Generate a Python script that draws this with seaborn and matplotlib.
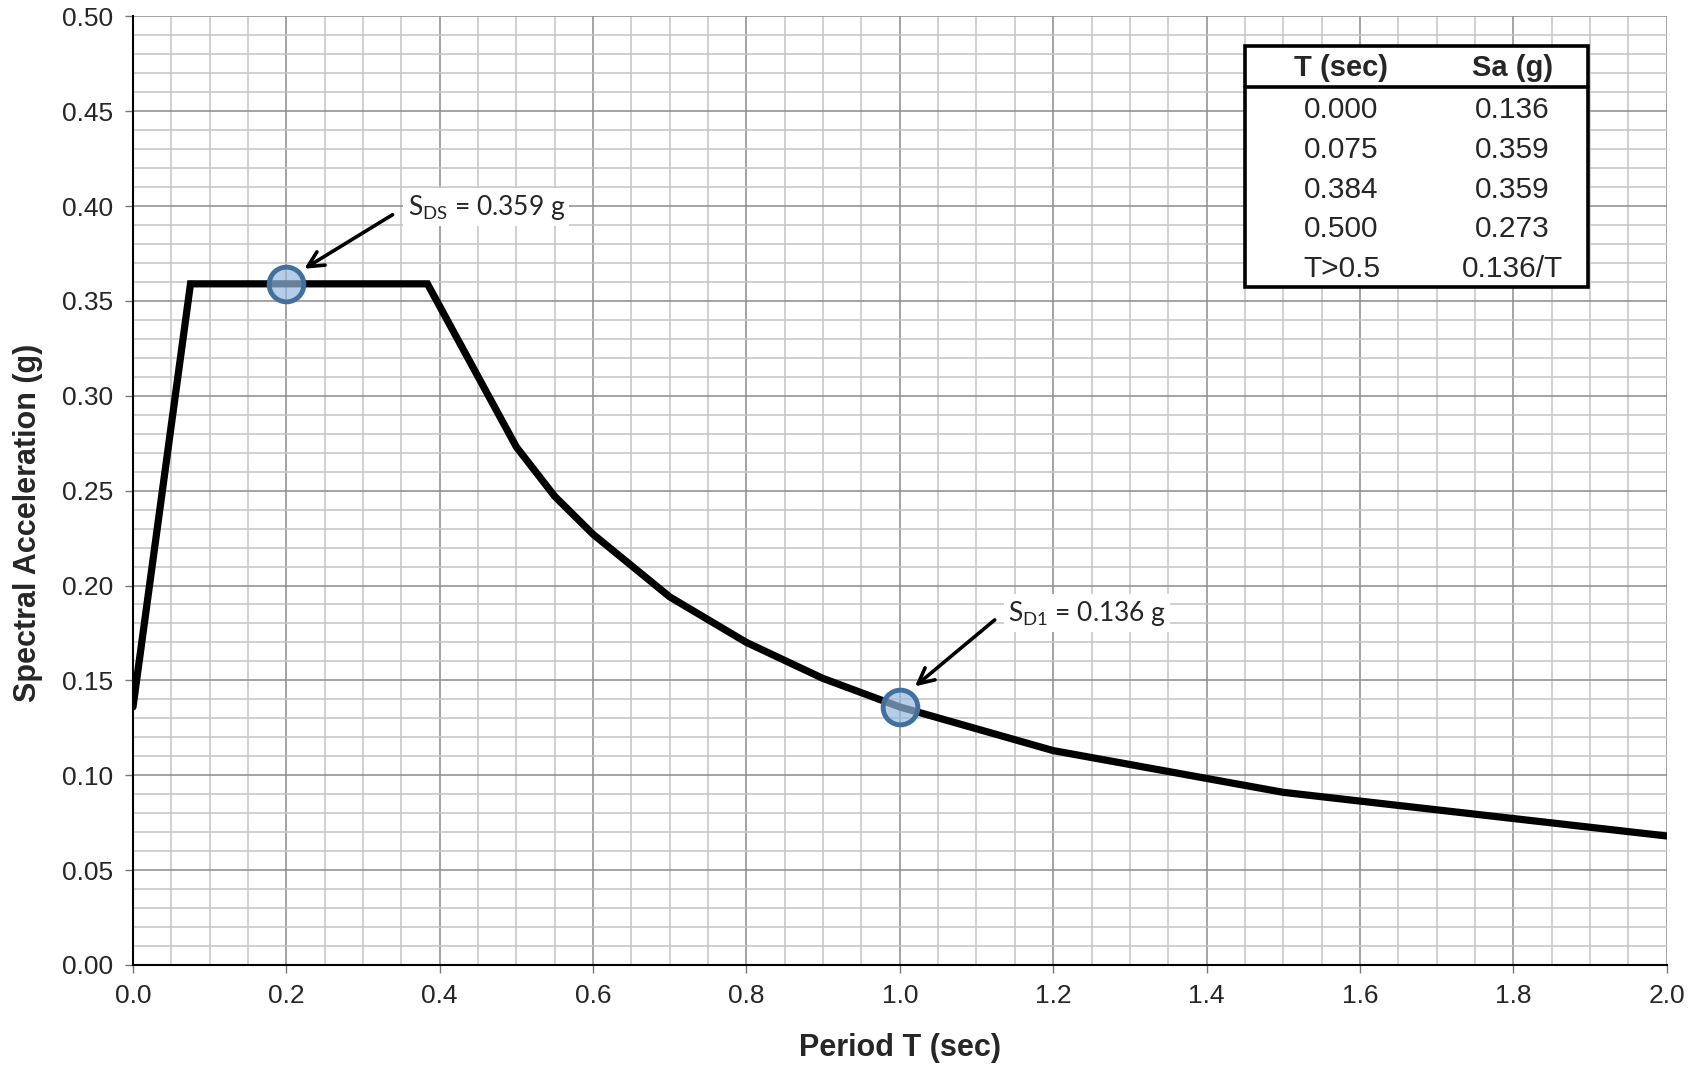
import matplotlib
matplotlib.use("Agg")
import matplotlib.pyplot as plt
from matplotlib.patches import Rectangle
from matplotlib.ticker import MultipleLocator
import pandas as pd
import seaborn as sns

# design response spectrum points (T in sec, Sa in g)
period = [0.0, 0.075, 0.384, 0.5, 0.55, 0.6, 0.7, 0.8, 0.9, 1.0, 1.2, 1.5, 2.0]
sa = [0.136, 0.359, 0.359, 0.273, 0.247, 0.227, 0.194, 0.170, 0.151, 0.136, 0.113, 0.091, 0.068]

# highlighted points
pt_T = [0.2, 1.0]
pt_sa = [0.359, 0.136]
pt_labels = [r"$\mathrm{S_{DS}}$ = 0.359 g", r"$\mathrm{S_{D1}}$ = 0.136 g"]
label_xy = [(0.358, 0.3994), (1.141, 0.1855)]
tail_xy = [(0.3416, 0.3962), (1.1265, 0.1828)]
head_xy = [(0.2203, 0.3662), (1.017, 0.1459)]

# summary table
table_cols = ["T (sec)", "Sa (g)"]
table_T = ["0.000", "0.075", "0.384", "0.500", "T>0.5"]
table_Sa = ["0.136", "0.359", "0.359", "0.273", "0.136/T"]

sns.set_theme(style="white")
plt.rcParams['font.family'] = ['Liberation Sans', 'DejaVu Sans']
plt.rcParams['mathtext.fontset'] = 'custom'
plt.rcParams['mathtext.rm'] = 'Lato'
plt.rcParams['mathtext.it'] = 'Lato:italic'
plt.rcParams['mathtext.bf'] = 'Lato:bold'

fig, ax = plt.subplots(figsize=(16.92, 10.65), dpi=100)
fig.subplots_adjust(left=0.0786, right=0.985, top=0.9847, bottom=0.0939)

df = pd.DataFrame({"T": period, "Sa": sa})
sns.lineplot(data=df, x="T", y="Sa", sort=False, estimator=None,
             color="black", linewidth=5.2, ax=ax, zorder=3,
             solid_joinstyle="miter")

ax.scatter(pt_T, pt_sa, s=25**2, facecolor=(0.58, 0.72, 0.88, 0.7),
           edgecolor="#41709c", linewidth=3.5, zorder=4)

for lab, lxy, txy, hxy in zip(pt_labels, label_xy, tail_xy, head_xy):
    ax.annotate("", xy=hxy, xytext=txy,
                arrowprops=dict(arrowstyle="->", color="black", lw=2.6,
                                mutation_scale=28), zorder=5)
    ax.text(lxy[0], lxy[1], lab, fontsize=19, family="Lato", va="center",
            ha="left", zorder=5,
            bbox=dict(facecolor="white", edgecolor="none", pad=3))

ax.set_xlim(0, 2.0)
ax.set_ylim(0, 0.5)
ax.xaxis.set_major_locator(MultipleLocator(0.2))
ax.xaxis.set_minor_locator(MultipleLocator(0.05))
ax.yaxis.set_major_locator(MultipleLocator(0.05))
ax.yaxis.set_minor_locator(MultipleLocator(0.01))
ax.xaxis.set_major_formatter(plt.FormatStrFormatter("%.1f"))
ax.yaxis.set_major_formatter(plt.FormatStrFormatter("%.2f"))

ax.set_axisbelow(True)
ax.grid(which="minor", color="#c4c4c4", linewidth=1.1)
ax.grid(which="major", color="#8c8c8c", linewidth=1.1)

for side in ["top", "right"]:
    ax.spines[side].set_visible(False)
for side in ["left", "bottom"]:
    ax.spines[side].set_color("black")
    ax.spines[side].set_linewidth(1.5)

ax.tick_params(which="major", direction="out", length=6, width=1,
               color="#777777", labelsize=19, pad=8, left=True, bottom=True)
ax.tick_params(which="minor", length=0)

ax.set_xlabel("Period T (sec)", fontsize=22, fontweight="bold", labelpad=18)
ax.set_ylabel("Spectral Acceleration (g)", fontsize=22, fontweight="bold")
ax.yaxis.set_label_coords(-0.0587, 0.466)

# table in axes coordinates
x0, x1, y0, y1 = 0.7249, 0.9485, 0.7148, 0.9687
ax.add_patch(Rectangle((x0, y0), x1 - x0, y1 - y0, transform=ax.transAxes,
                       facecolor="white", edgecolor="black", linewidth=2.6,
                       zorder=6))
ax.plot([x0, x1], [0.9254, 0.9254], transform=ax.transAxes, color="black",
        linewidth=2.6, zorder=7)
col_x = [0.788, 0.8996]
for cx, head in zip(col_x, table_cols):
    ax.text(cx, 0.945, head, transform=ax.transAxes, ha="center", va="center",
            fontsize=21, fontweight="bold", zorder=7)
row_y = [0.9013, 0.8591, 0.8170, 0.7758, 0.7337]
for ry, t, s in zip(row_y, table_T, table_Sa):
    ax.text(col_x[0], ry, t, transform=ax.transAxes, ha="center", va="center",
            fontsize=21.5, zorder=7)
    ax.text(col_x[1], ry, s, transform=ax.transAxes, ha="center", va="center",
            fontsize=21.5, zorder=7)

fig.savefig("out.png", dpi=100)
